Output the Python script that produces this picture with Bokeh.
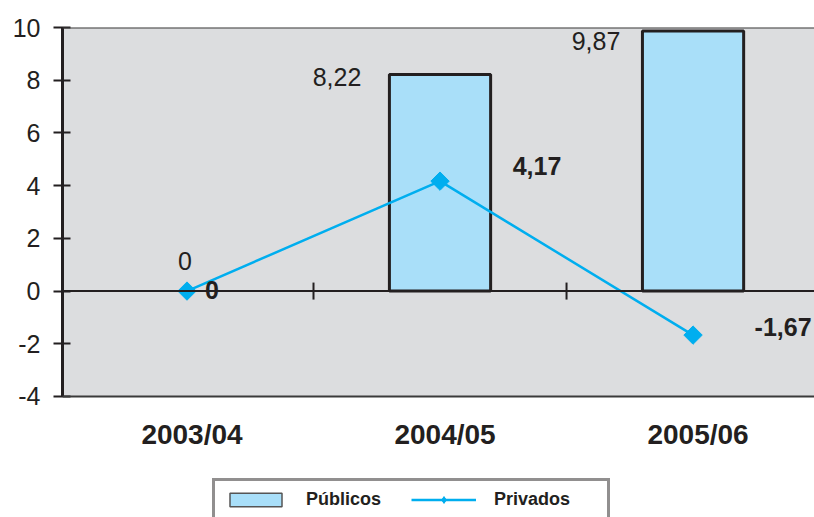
import math
from bokeh.plotting import figure
from bokeh.models import (Range1d, FixedTicker, Span, Legend, LegendItem,
                          ColumnDataSource, BoxAnnotation)
from bokeh.core.properties import value
from bokeh.embed import file_html
from bokeh.resources import INLINE

# ---- data ----
categories = ["2003/04", "2004/05", "2005/06"]
publicos = [0, 8.22, 9.87]
privados = [0, 4.17, -1.67]
publicos_labels = ["0", "8,22", "9,87"]
privados_labels = ["0", "4,17", "-1,67"]
y_ticks = [-4, -2, 0, 2, 4, 6, 8, 10]

# ---- layout / style ----
FONT = "Liberation Sans"
INK = "#231f20"
BAR_FILL = "#a9dff9"
LINE_COL = "#00aeef"
PLOT_BG = "#dcdddf"

pub_dx = [-2, -103, -97]
pub_dy = [-30, 3, 10]
priv_dx = [25, 97, 90]
priv_dy = [-1, -15, -8]

y_min, y_max = y_ticks[0], y_ticks[-1]
xc = [i + 0.5 for i in range(len(categories))]
bounds = [float(i) for i in range(1, len(categories))]

# frame extends below the plot area so the legend can sit there
p = figure(width=814, height=517, output_backend="svg", toolbar_location=None,
           x_range=Range1d(0.008, 2.98), y_range=Range1d(-8.591, y_max),
           x_axis_location=None,
           min_border_left=62, min_border_right=0, min_border_top=27,
           min_border_bottom=0,
           background_fill_color="white", border_fill_color="white",
           outline_line_color=None)
p.grid.visible = False

# grey plot area
p.add_layout(BoxAnnotation(bottom=y_min, top=y_max, fill_color=PLOT_BG, fill_alpha=1.0,
                           line_color=None, level="underlay"))

# y axis
ya = p.yaxis[0]
ya.ticker = FixedTicker(ticks=y_ticks)
ya.bounds = (y_min, y_max)
ya.major_label_overrides = {t: str(t) for t in y_ticks}
ya.minor_tick_line_color = None
ya.axis_line_color = INK
ya.axis_line_width = 3
ya.major_tick_line_color = INK
ya.major_tick_line_width = 2
ya.major_tick_in = 8
ya.major_tick_out = 9
ya.major_label_text_font = FONT
ya.major_label_text_font_size = "25px"
ya.major_label_text_color = INK
ya.major_label_standoff = 13

# category labels
p.text(x=xc, y=[y_min] * len(xc), text=categories, x_offset=5, y_offset=38,
       text_font=value(FONT), text_font_size="28px", text_font_style="bold",
       text_color=INK, text_align="center", text_baseline="middle")

bar_src = ColumnDataSource(dict(x=xc, top=publicos,
                                la=[0.0 if v == 0 else 1.0 for v in publicos]))

# thin-outlined copy (used for the legend swatch; hidden under the real bars)
leg_bar = p.vbar(x="x", top="top", bottom=0, width=0.4, source=bar_src,
                 fill_color=BAR_FILL, line_color="#555555", line_width=1.5)
# bars (zero-height bar has no visible outline)
bars = p.vbar(x="x", top="top", bottom=0, width=0.4, source=bar_src,
              fill_color=BAR_FILL, line_color=INK, line_width=3, line_alpha="la")

# top border, bottom border and zero line
p.add_layout(Span(location=y_max, dimension="width", line_color="#3a3a3a", line_width=2))
p.add_layout(Span(location=y_min, dimension="width", line_color="#3a3a3a", line_width=2))
p.add_layout(Span(location=0, dimension="width", line_color=INK, line_width=2))
p.scatter(x=bounds, y=[0] * len(bounds), marker="dash", size=17, angle=math.pi / 2,
          line_color=INK, line_width=2)

# line
line = p.line(x=xc, y=privados, line_color=LINE_COL, line_width=2.5)
# diamond copy (used for the legend; hidden under the rotated squares)
leg_pt = p.scatter(x=xc, y=privados, marker="diamond", size=12,
                   fill_color=LINE_COL, line_color=LINE_COL)
pts = p.scatter(x=xc, y=privados, marker="square", size=13, angle=math.pi / 4,
                fill_color=LINE_COL, line_color=LINE_COL)

# labels
src_pub = ColumnDataSource(dict(x=xc, y=publicos, t=publicos_labels, dx=pub_dx, dy=pub_dy))
p.text(x="x", y="y", text="t", x_offset="dx", y_offset="dy", source=src_pub,
       text_font=value(FONT), text_font_size="25px", text_color=INK,
       text_align="center", text_baseline="middle")
src_priv = ColumnDataSource(dict(x=xc, y=privados, t=privados_labels, dx=priv_dx, dy=priv_dy))
p.text(x="x", y="y", text="t", x_offset="dx", y_offset="dy", source=src_priv,
       text_font=value(FONT), text_font_size="25px", text_color=INK,
       text_font_style="bold", text_align="center", text_baseline="middle")

legend = Legend(items=[LegendItem(label="Públicos", renderers=[leg_bar]),
                       LegendItem(label="Privados", renderers=[line, leg_pt])],
                location=(150, -4), orientation="horizontal",
                glyph_width=65, glyph_height=17, label_standoff=18, spacing=0,
                label_width=105,
                padding=8, margin=0, border_line_color=INK, border_line_width=3,
                background_fill_color="white", background_fill_alpha=1.0,
                label_text_font=FONT, label_text_font_size="18px",
                label_text_font_style="bold", label_text_color=INK)
p.add_layout(legend, "center")

open("out.html", "w").write(file_html(p, INLINE))
